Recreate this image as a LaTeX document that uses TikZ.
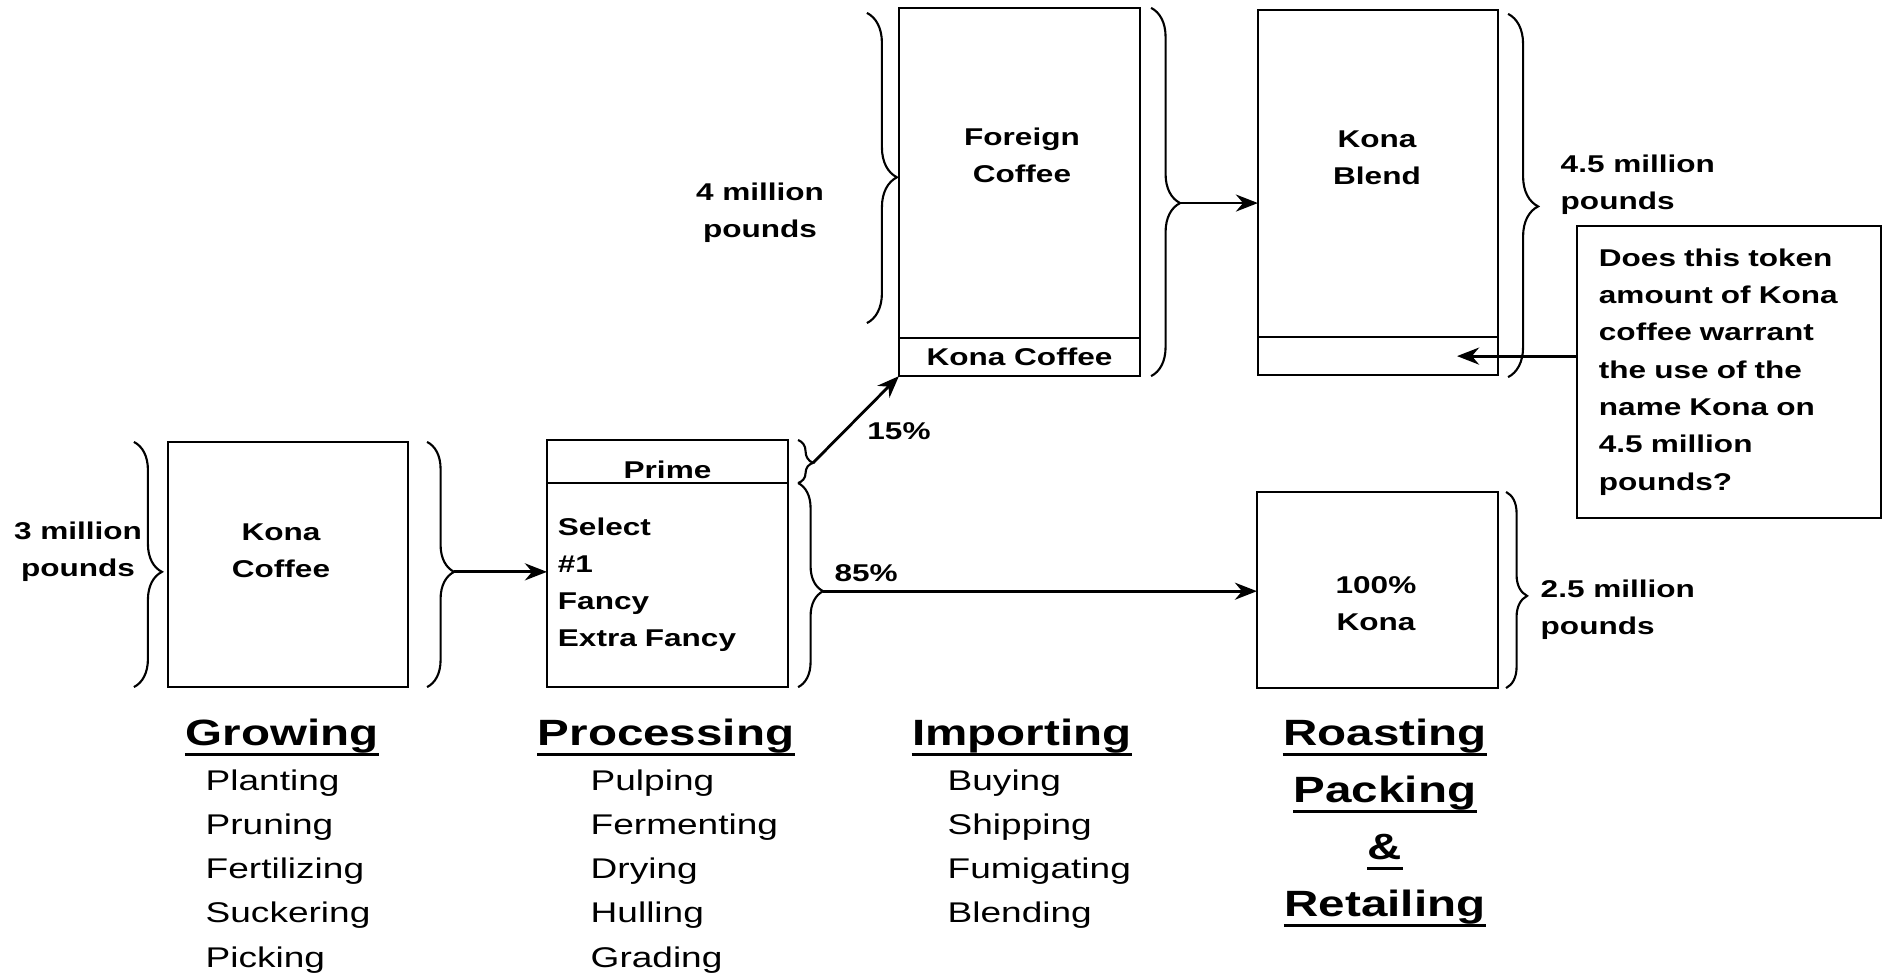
\documentclass[tikz,border=0pt]{standalone}
\usepackage{fontspec}
\setmainfont{Liberation Sans}[FakeStretch=1.3]
\usetikzlibrary{positioning,decorations.pathreplacing,arrows.meta}

\tikzstyle{box} = [draw,line width=0.7pt,inner sep=0pt,outer sep=0pt,minimum width=2.4cm]
\tikzstyle{boxtext} = [font=\fontsize{6.9}{10.5}\selectfont\bfseries,align=center]
\tikzstyle{amount} = [font=\fontsize{6.9}{10.5}\selectfont\bfseries,align=center,inner sep=0pt]
\tikzstyle{stage} = [font=\fontsize{10.4}{12}\selectfont\bfseries,anchor=base,inner sep=0pt,text depth=0.09cm]
\tikzstyle{job} = [font=\fontsize{8.1}{10}\selectfont,anchor=base west,inner sep=0pt]
\tikzstyle{underline} = [draw,line width=0.9pt]
\tikzstyle{flow} = [draw,line width=0.8pt,-{Stealth[length=0.22cm,width=0.17cm]}]
\tikzset{curly/.style={draw,line width=0.6pt,decorate,decoration={brace,amplitude=#1,aspect=0.53}}}

\begin{document}
\begin{tikzpicture}[x=0.01cm,y=-0.01cm]
  \useasboundingbox (0,0) rectangle (1884,976);
  %boxes
  \node[box, minimum height=2.45cm] (kona) at (288,564.5) {};
  \node[boxtext] (konaText) at (281,551) {Kona\\Coffee};

  \node[box, minimum width=2.41cm, minimum height=0.43cm] (procTop) at (667.5,461.5) {};
  \node[boxtext, anchor=base] (primeText) at ([yshift=-0.165cm]procTop.center) {Prime};
  \node[box, boxtext, align=left, minimum width=2.41cm, minimum height=2.04cm, text width=2.19cm,
        inner xsep=0.11cm, below=0pt of procTop] (procMain) {Select\\\#1\\Fancy\\Extra Fancy};

  \node[box, minimum width=2.41cm, minimum height=3.3cm] (foreign) at (1019.5,173) {};
  \node[box, boxtext, minimum width=2.41cm, minimum height=0.38cm, below=0pt of foreign] (foreignKona) {Kona Coffee};
  \node[boxtext] (foreignText) at (1022,155) {Foreign\\Coffee};

  \node[box, minimum height=3.27cm] (blend) at (1378,173.5) {};
  \node[box, minimum height=0.38cm, below=0pt of blend] (blendKona) {};
  \node[boxtext] (blendText) at (1377,157.5) {Kona\\Blend};

  \node[box, minimum width=2.41cm, minimum height=1.96cm] (pure) at (1377.5,590) {};
  \node[boxtext] (pureText) at (1376,604) {100\%\\Kona};

  \node[box, boxtext, align=left, minimum width=3.04cm, minimum height=2.92cm, text width=2.6cm,
        inner xsep=0.22cm, font=\fontsize{6.9}{10.6}\selectfont\bfseries] (question) at (1729,372)
        {Does this token\\amount of Kona\\coffee warrant\\the use of the\\name Kona on\\4.5 million\\pounds?};

  %braces
  \draw[curly=0.28cm] ([xshift=-0.34cm]kona.north west) -- ([xshift=-0.34cm]kona.south west);
  \draw[curly=0.27cm] ([xshift=0.19cm]kona.north east) -- ([xshift=0.19cm]kona.south east)
    coordinate[pos=0.53, xshift=0.27cm] (growTip);
  \draw[curly=0.15cm] ([xshift=0.1cm]procTop.north east) -- ([xshift=0.1cm]procTop.south east)
    coordinate[pos=0.53, xshift=0.15cm] (primeTip);
  \draw[curly=0.25cm] ([xshift=0.1cm]procMain.north east) -- ([xshift=0.1cm]procMain.south east)
    coordinate[pos=0.53, xshift=0.25cm] (gradeTip);
  \draw[curly=0.3cm] ([shift={(-0.32cm,-0.05cm)}]foreign.north west) -- ([shift={(-0.32cm,0.15cm)}]foreign.south west);
  \draw[curly=0.29cm] ([xshift=0.11cm]foreign.north east) -- ([xshift=0.11cm]foreignKona.south east)
    coordinate[pos=0.53, xshift=0.29cm] (foreignTip);
  \draw[curly=0.3cm] ([shift={(0.1cm,-0.04cm)}]blend.north east) -- ([shift={(0.1cm,-0.02cm)}]blendKona.south east);
  \draw[curly=0.21cm] ([xshift=0.08cm]pure.north east) -- ([xshift=0.08cm]pure.south east);

  %amounts
  \node[amount] (konaAmount) at (78,552) {3 million\\pounds};
  \node[amount] (foreignAmount) at (760,213) {4 million\\pounds};
  \node[amount, anchor=west, align=left] (blendAmount) at (1560,185) {4.5 million\\pounds};
  \node[amount, anchor=west, align=left] (pureAmount) at (1540,610) {2.5 million\\pounds};

  %edges
  \draw[flow] (growTip) -- (growTip -| procMain.west);
  \draw[flow] (primeTip) -- (foreignKona.south west)
    node[amount, midway, below right=0.02cm and 0.1cm] (share15) {15\%};
  \draw[flow] (gradeTip) -- (gradeTip -| pure.west)
    node[amount, pos=0, above right=0.08cm and 0.1cm] (share85) {85\%};
  \draw[flow] (foreignTip) -- (foreignTip -| blend.west);
  \draw[flow] (question.west |- blendKona.east) -- ([xshift=-0.41cm]blendKona.east);

  %stages
  \foreach \stage/\x in {Growing/282, Processing/666, Importing/1022}
  {
    \node[stage] (\stage) at (\x,745) {\stage};
    \draw[underline] (\stage.south west) -- (\stage.south east);
  };
  \foreach \word [count=\i] in {Roasting, Packing, \&, Retailing}
  {
    \node[stage] (roast\i) at (1385,{745+57*(\i-1)}) {\word};
    \draw[underline] (roast\i.south west) -- (roast\i.south east);
  };
  \foreach \job [count=\i] in {Planting, Pruning, Fertilizing, Suckering, Picking}
    \node[job] (grow\i) at (205,{790+44.3*(\i-1)}) {\job};
  \foreach \job [count=\i] in {Pulping, Fermenting, Drying, Hulling, Grading}
    \node[job] (proc\i) at (590,{790+44.3*(\i-1)}) {\job};
  \foreach \job [count=\i] in {Buying, Shipping, Fumigating, Blending}
    \node[job] (imp\i) at (947,{790+44.3*(\i-1)}) {\job};
\end{tikzpicture}
\end{document}
